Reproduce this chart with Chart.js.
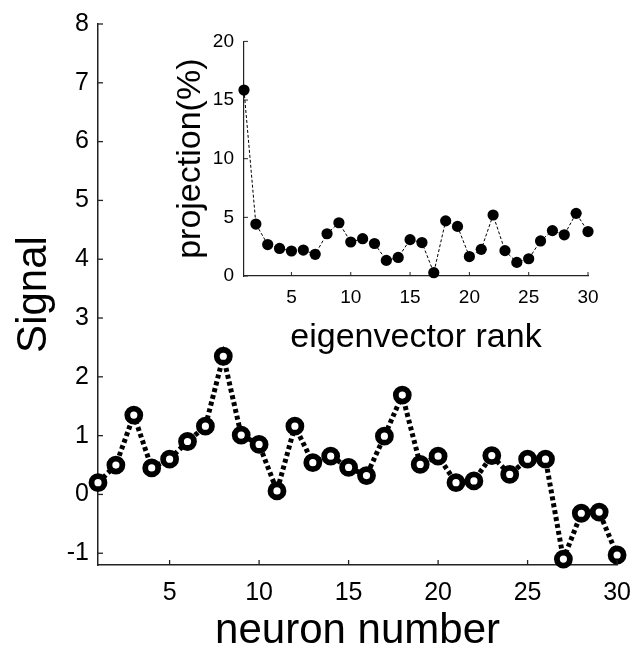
<!DOCTYPE html>
<html>
<head>
<meta charset="utf-8">
<script src="https://cdn.jsdelivr.net/npm/chart.js@4/dist/chart.umd.min.js"></script>
<style>
  html, body { margin: 0; padding: 0; background: #fff; }
  #wrap { position: relative; width: 644px; height: 653px; }
  #main-box { position: absolute; left: 0; top: 0; width: 644px; height: 653px; }
  #inset-box { position: absolute; left: 170px; top: 20px; width: 440px; height: 340px; }
</style>
</head>
<body>
<div id="wrap">
  <div id="main-box"><canvas id="main-chart"></canvas></div>
  <div id="inset-box"><canvas id="inset-chart"></canvas></div>
</div>
<script>
// ------------------------
// DATA
// ------------------------

const neuronIds = [1, 2, 3, 4, 5, 6, 7, 8, 9, 10, 11, 12, 13, 14, 15,
    16, 17, 18, 19, 20, 21, 22, 23, 24, 25, 26, 27, 28, 29, 30];

const signalValues = [0.20, 0.50, 1.35, 0.45, 0.60, 0.90, 1.16, 2.35, 1.01, 0.85,
    0.06, 1.16, 0.54, 0.65, 0.46, 0.32, 0.99, 1.69, 0.51, 0.65,
    0.20, 0.23, 0.66, 0.34, 0.60, 0.60, -1.10, -0.32, -0.30, -1.03];

const eigenRanks = neuronIds;

const projectionValues = [15.85, 4.43, 2.68, 2.35, 2.13, 2.21, 1.85, 3.60, 4.54, 2.90,
    3.18, 2.77, 1.33, 1.58, 3.10, 2.85, 0.28, 4.70, 4.23, 1.66,
    2.27, 5.20, 2.16, 1.16, 1.47, 2.99, 3.87, 3.51, 5.34, 3.79];

const mainXTicks = [5, 10, 15, 20, 25, 30];
const mainYTicks = [-1, 0, 1, 2, 3, 4, 5, 6, 7, 8];
const insetXTicks = [5, 10, 15, 20, 25, 30];
const insetYTicks = [0, 5, 10, 15, 20];

const FONT = "'Liberation Sans', Arial, sans-serif";

// ------------------------
// INWARD TICK MARKS (matlab style)
// ------------------------

const inwardTicks = {
    id: "inwardTicks",
    afterDraw(chart, args, opts) {
        const ctx = chart.ctx;
        const { bottom, left } = chart.chartArea;
        const xs = chart.scales.x;
        const ys = chart.scales.y;
        ctx.save();
        ctx.strokeStyle = opts.color || "#222";
        ctx.lineWidth = opts.width || 1;
        xs.ticks.forEach((t, i) => {
            const px = xs.getPixelForTick(i);
            ctx.beginPath();
            ctx.moveTo(px, bottom);
            ctx.lineTo(px, bottom - opts.len);
            ctx.stroke();
        });
        ys.ticks.forEach((t, i) => {
            const py = ys.getPixelForTick(i);
            ctx.beginPath();
            ctx.moveTo(left, py);
            ctx.lineTo(left + opts.len, py);
            ctx.stroke();
        });
        ctx.restore();
    }
};

function fixedTicks(list) {
    return scale => {
        scale.ticks = list.map(v => ({ value: v }));
    };
}

// ------------------------
// MAIN CHART
// ------------------------

new Chart(document.getElementById("main-chart"), {
    type: "line",
    data: {
        datasets: [{
            data: neuronIds.map((n, i) => ({ x: n, y: signalValues[i] })),
            borderColor: "#000",
            borderWidth: 5,
            borderDash: [4, 3],
            pointRadius: 6.5,
            pointBorderWidth: 5.8,
            pointBorderColor: "#000",
            pointBackgroundColor: "#fff",
            clip: false,
            tension: 0
        }]
    },
    options: {
        responsive: true,
        maintainAspectRatio: false,
        animation: false,
        layout: { padding: { top: 18, right: 17, left: 0, bottom: 0 } },
        plugins: {
            legend: { display: false },
            tooltip: { enabled: false },
            inwardTicks: { len: 5, color: "#222", width: 1.3 }
        },
        scales: {
            x: {
                type: "linear",
                min: 1,
                max: 30,
                afterBuildTicks: fixedTicks(mainXTicks),
                afterFit: s => { s.height = 88; },
                grid: { drawOnChartArea: false, drawTicks: false },
                border: { color: "#222", width: 1.5 },
                ticks: { color: "#000", padding: 13, font: { family: FONT, size: 25 } },
                title: {
                    display: true,
                    text: "neuron number",
                    color: "#000",
                    font: { family: FONT, size: 42 },
                    padding: { top: 0, bottom: -4 }
                }
            },
            y: {
                min: -1.2,
                max: 8,
                afterBuildTicks: fixedTicks(mainYTicks),
                afterFit: s => { s.width = 98; },
                grid: { drawOnChartArea: false, drawTicks: false },
                border: { color: "#222", width: 1.5 },
                ticks: { color: "#000", padding: 9, font: { family: FONT, size: 25 } },
                title: {
                    display: true,
                    text: "Signal",
                    color: "#000",
                    font: { family: FONT, size: 42 },
                    padding: { top: 9, bottom: 0 }
                }
            }
        }
    },
    plugins: [inwardTicks]
});

// ------------------------
// INSET CHART
// ------------------------

new Chart(document.getElementById("inset-chart"), {
    type: "line",
    data: {
        datasets: [{
            data: eigenRanks.map((n, i) => ({ x: n, y: projectionValues[i] })),
            borderColor: "#000",
            borderWidth: 1,
            borderDash: [3, 2],
            pointRadius: 5.6,
            pointBorderWidth: 0,
            pointBackgroundColor: "#000",
            clip: false,
            tension: 0
        }]
    },
    options: {
        responsive: true,
        maintainAspectRatio: false,
        animation: false,
        layout: { padding: { top: 16, right: 22, left: 0, bottom: 0 } },
        plugins: {
            legend: { display: false },
            tooltip: { enabled: false },
            inwardTicks: { len: 4, color: "#222", width: 1 }
        },
        scales: {
            x: {
                type: "linear",
                min: 1,
                max: 30,
                afterBuildTicks: fixedTicks(insetXTicks),
                afterFit: s => { s.height = 84; },
                grid: { drawOnChartArea: false, drawTicks: false },
                border: { color: "#222", width: 1.2 },
                ticks: { color: "#000", padding: 10, font: { family: FONT, size: 19 } },
                title: {
                    display: true,
                    text: "eigenvector rank",
                    color: "#000",
                    font: { family: FONT, size: 34 },
                    padding: { top: 0, bottom: 2 }
                }
            },
            y: {
                min: 0,
                max: 20,
                afterBuildTicks: fixedTicks(insetYTicks),
                afterFit: s => { s.width = 74; },
                grid: { drawOnChartArea: false, drawTicks: false },
                border: { color: "#222", width: 1.2 },
                ticks: { color: "#000", padding: 10, font: { family: FONT, size: 19 } },
                title: {
                    display: true,
                    text: "projection(%)",
                    color: "#000",
                    font: { family: FONT, size: 34 },
                    padding: { top: 0, bottom: 0 }
                }
            }
        }
    },
    plugins: [inwardTicks]
});
</script>
</body>
</html>
